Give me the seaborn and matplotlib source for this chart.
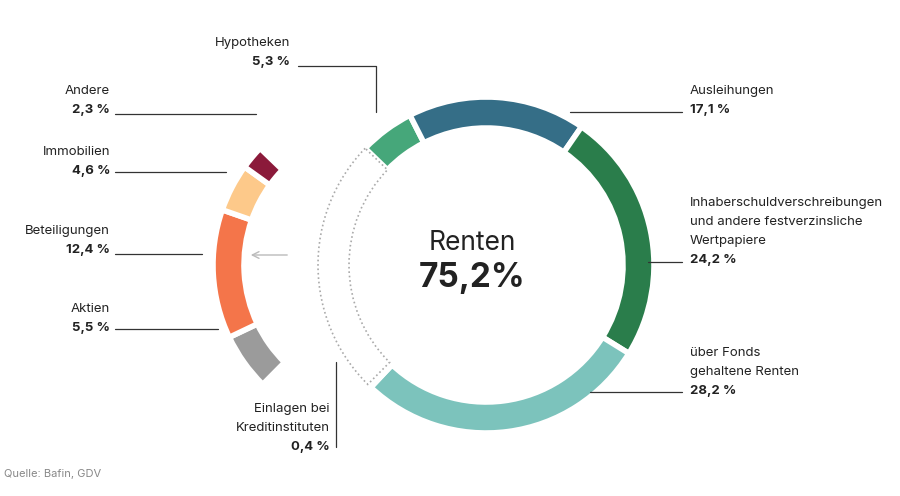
import matplotlib.pyplot as plt
import seaborn as sns

sns.set_theme(style="white")
plt.rcParams['font.family'] = ['Inter', 'DejaVu Sans']

# clockwise from Hypotheken
labels = ["Hypotheken", "Ausleihungen", "Inhaberschuldverschreibungen", "über Fonds gehaltene Renten",
          "Einlagen bei Kreditinstituten", "Aktien", "Beteiligungen", "Immobilien", "Andere"]
values = [5.3, 17.1, 24.2, 28.2, 0.4, 5.5, 12.4, 4.6, 2.3]
colors = ["#46a77a", "#356e87", "#2a7d4b", "#7cc3bc", "#333333",
          "#9b9b9b", "#f4754a", "#fdc98a", "#8b1a3a"]
n_renten = 5
other_total = sum(values[n_renten:])

fig = plt.figure(figsize=(9, 4.96), dpi=100)
ax = fig.add_axes([0, 0, 1, 1])

H = 496
cx, cy, R, W = 486, H - 265, 168, 31
start = 136

# main ring: Renten parts + dotted placeholder for the rest
main_vals = values[:n_renten] + [other_total]
wedges, _ = ax.pie(main_vals, colors=colors[:n_renten] + ["none"], center=(cx, cy), radius=R,
                   startangle=start, counterclock=False,
                   wedgeprops=dict(width=W, edgecolor="white", linewidth=4))
wedges[-1].set_facecolor("none")
wedges[-1].set_edgecolor("#aaaaaa")
wedges[-1].set_linestyle(":")
wedges[-1].set_linewidth(1.2)

# pulled-out ring
wedges2, _ = ax.pie(values, colors=colors, center=(cx - 105, cy), radius=R,
                    startangle=start, counterclock=False,
                    wedgeprops=dict(width=W, edgecolor="white", linewidth=4))
for w in wedges2[:n_renten]:
    w.set_visible(False)

ax.set_xlim(0, 900)
ax.set_ylim(0, 496)
ax.set_aspect('equal')
ax.axis('off')

ax.text(cx - 14, H - 243, "Renten", ha="center", va="center", fontsize=19, color="#222222")
ax.text(cx - 14, H - 278, "75,2%", ha="center", va="center", fontsize=24, fontweight="bold", color="#222222")

ax.annotate("", xy=(248, H - 255), xytext=(290, H - 255),
            arrowprops=dict(arrowstyle="->", color="#bbbbbb", lw=1))

lc = "#333333"
fs = 9.5

def label(x, y, lines, pct, ha):
    for i, t in enumerate(lines):
        ax.text(x, H - (y + 19 * i), t, ha=ha, va="center", fontsize=fs, color="#222222")
    ax.text(x, H - (y + 19 * len(lines)), pct, ha=ha, va="center", fontsize=fs,
            fontweight="bold", color="#222222")

def line(pts):
    ax.plot([p[0] for p in pts], [H - p[1] for p in pts], color=lc, lw=0.9)

label(290, 43, ["Hypotheken"], "5,3 %", "right")
line([(298, 66), (376, 66), (376, 112)])
label(110, 91, ["Andere"], "2,3 %", "right")
line([(115, 114), (256, 114)])
label(110, 152, ["Immobilien"], "4,6 %", "right")
line([(115, 172), (226, 172)])
label(110, 231, ["Beteiligungen"], "12,4 %", "right")
line([(115, 254), (202, 254)])
label(110, 309, ["Aktien"], "5,5 %", "right")
line([(115, 329), (218, 329)])
label(330, 409, ["Einlagen bei", "Kreditinstituten"], "0,4 %", "right")
line([(336, 447), (336, 362)])
label(690, 91, ["Ausleihungen"], "17,1 %", "left")
line([(570, 112), (682, 112)])
label(690, 203, ["Inhaberschuldverschreibungen", "und andere festverzinsliche", "Wertpapiere"], "24,2 %", "left")
line([(648, 262), (682, 262)])
label(690, 353, ["über Fonds", "gehaltene Renten"], "28,2 %", "left")
line([(590, 392), (682, 392)])

ax.text(4, H - 474, "Quelle: Bafin, GDV", ha="left", va="center", fontsize=8, color="#888888")

fig.savefig("out.png", dpi=100)
